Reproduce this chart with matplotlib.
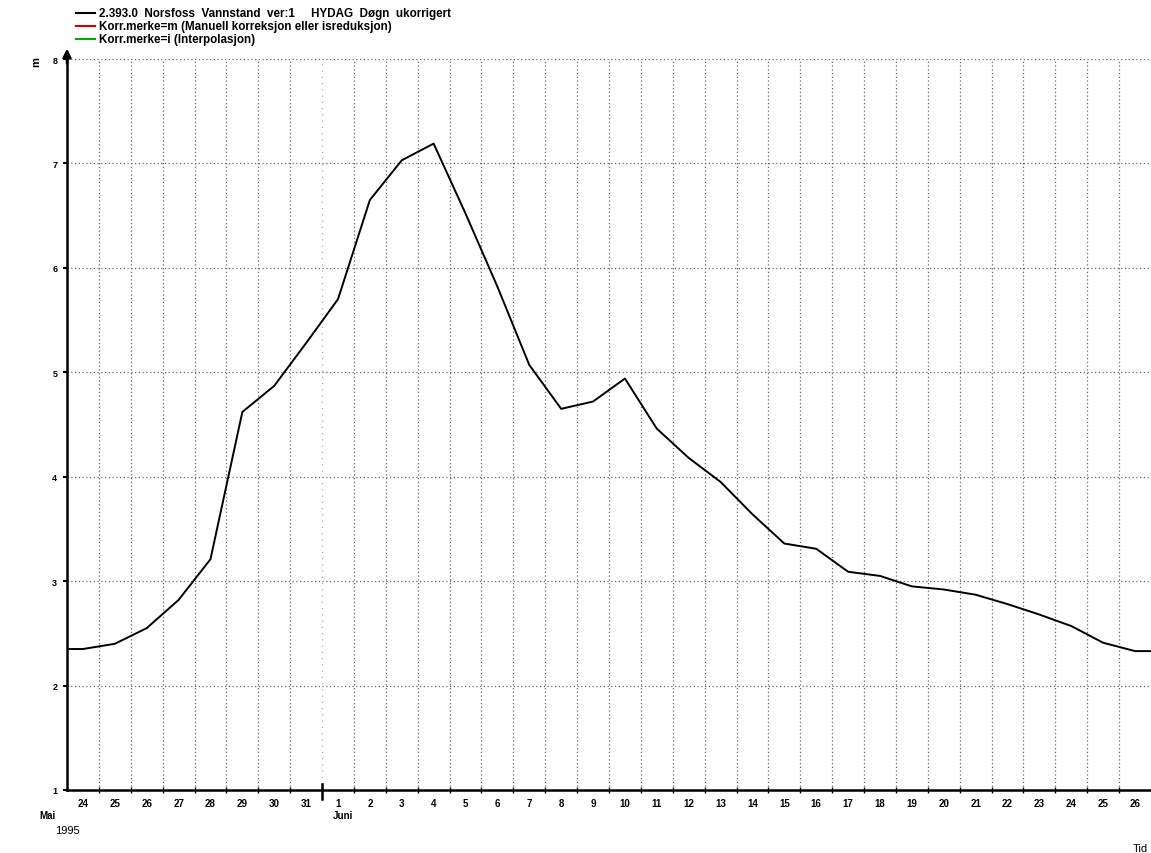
import matplotlib
matplotlib.use("Agg")
import matplotlib.pyplot as plt
import matplotlib.transforms as mtransforms
import numpy as np

plt.rcParams['font.family'] = ['Liberation Sans', 'DejaVu Sans']

# ---- data ----
day_labels = ["24", "25", "26", "27", "28", "29", "30", "31",
              "1", "2", "3", "4", "5", "6", "7", "8", "9", "10", "11", "12", "13",
              "14", "15", "16", "17", "18", "19", "20", "21", "22", "23", "24", "25", "26"]
# daily water level (m), 23 May (off-axis start) then 24 May .. 26 June, 27 June (off-axis end)
level_before = 2.35
levels = [2.35, 2.40, 2.55, 2.82, 3.21, 4.62, 4.87, 5.28,
          5.70, 6.65, 7.03, 7.19, 6.52, 5.82, 5.07, 4.65, 4.72, 4.94, 4.46, 4.18, 3.95,
          3.64, 3.36, 3.31, 3.09, 3.05, 2.95, 2.92, 2.87, 2.78, 2.68, 2.57, 2.41, 2.33]
level_after = 2.33
month_labels = ["Mai", "Juni"]
year_label = "1995"
legend_texts = ["2.393.0  Norsfoss  Vannstand  ver:1     HYDAG  Døgn  ukorrigert",
                "Korr.merke=m (Manuell korreksjon eller isreduksjon)",
                "Korr.merke=i (Interpolasjon)"]
legend_colors = ["#000000", "#cc0000", "#00aa00"]
y_ticks = [1, 2, 3, 4, 5, 6, 7, 8]

W, H = 1151, 854
fig = plt.figure(figsize=(W / 100, H / 100), dpi=100)
ax = fig.add_axes([67 / W, 1 - 791 / H, 1 - 67 / W, (791 - 60) / H])

n = len(levels)
xs = np.arange(-1, n + 1) + 0.5
ys = [level_before] + levels + [level_after]
ax.plot(xs, ys, color="black", lw=1.4, zorder=3)

ax.set_xlim(0, n)
ax.set_ylim(1, 8)

grid_kw = dict(color="#666666", lw=0.9, linestyle=(0, (1, 2)), zorder=1)
for yv in y_ticks[1:]:
    ax.axhline(yv, **grid_kw)
month_boundary = 8
for d in range(1, n):
    if d == month_boundary:
        ax.axvline(d, color="#aaaaaa", lw=0.9, linestyle=(0, (1, 4)), zorder=1)
    else:
        ax.axvline(d, **grid_kw)

for s in ["top", "right"]:
    ax.spines[s].set_visible(False)
ax.spines["left"].set_linewidth(1.8)
ax.spines["bottom"].set_linewidth(1.8)

ax.set_yticks(y_ticks)
ax.set_yticklabels([str(v) for v in y_ticks], fontsize=6.5, fontweight="bold")
ax.tick_params(axis="y", length=3, width=1.5, pad=4)

ax.set_xticks(np.arange(1, n))
ax.set_xticklabels([])
ax.tick_params(axis="x", which="major", length=4, width=1, direction="inout")
ax.set_xticks(np.arange(n) + 0.5, minor=True)
ax.set_xticklabels(day_labels, minor=True, fontsize=7, fontweight="bold")
ax.tick_params(axis="x", which="minor", length=0, pad=6)

# month boundary tick
trans = mtransforms.blended_transform_factory(ax.transData, ax.transAxes)
ax.plot([month_boundary, month_boundary], [-0.012, 0.008], color="black", lw=1.8,
        transform=trans, clip_on=False)

ax.text(-0.6, -0.027, month_labels[0], transform=trans, fontsize=7, fontweight="bold",
        ha="center", va="top")
ax.text(month_boundary + 0.35, -0.027, month_labels[1], transform=trans, fontsize=7,
        fontweight="bold", ha="left", va="top")
fig.text(55 / W, 1 - 831 / H, year_label, fontsize=8, ha="left", va="center")
fig.text(1140 / W, 1 - 849 / H, "Tid", fontsize=8, ha="center", va="center")
fig.text(36 / W, 1 - 62 / H, "m", fontsize=8, fontweight="bold", rotation=90,
         ha="center", va="center")

# arrow on y axis
ax.annotate("", xy=(0, 1.018), xytext=(0, 0.99), xycoords="axes fraction",
            arrowprops=dict(arrowstyle="-|>,head_width=0.25,head_length=0.5",
                            color="black", lw=1.8), annotation_clip=False)

# legend
for i, (txt, col) in enumerate(zip(legend_texts, legend_colors)):
    yy = 1 - (14 + 13 * i) / H
    fig.add_artist(plt.Line2D([76 / W, 95 / W], [yy, yy], color=col, lw=1.5,
                              transform=fig.transFigure))
    fig.text(99 / W, yy, txt, fontsize=8.4, fontweight="bold", ha="left", va="center")

fig.savefig("out.png", dpi=100)
